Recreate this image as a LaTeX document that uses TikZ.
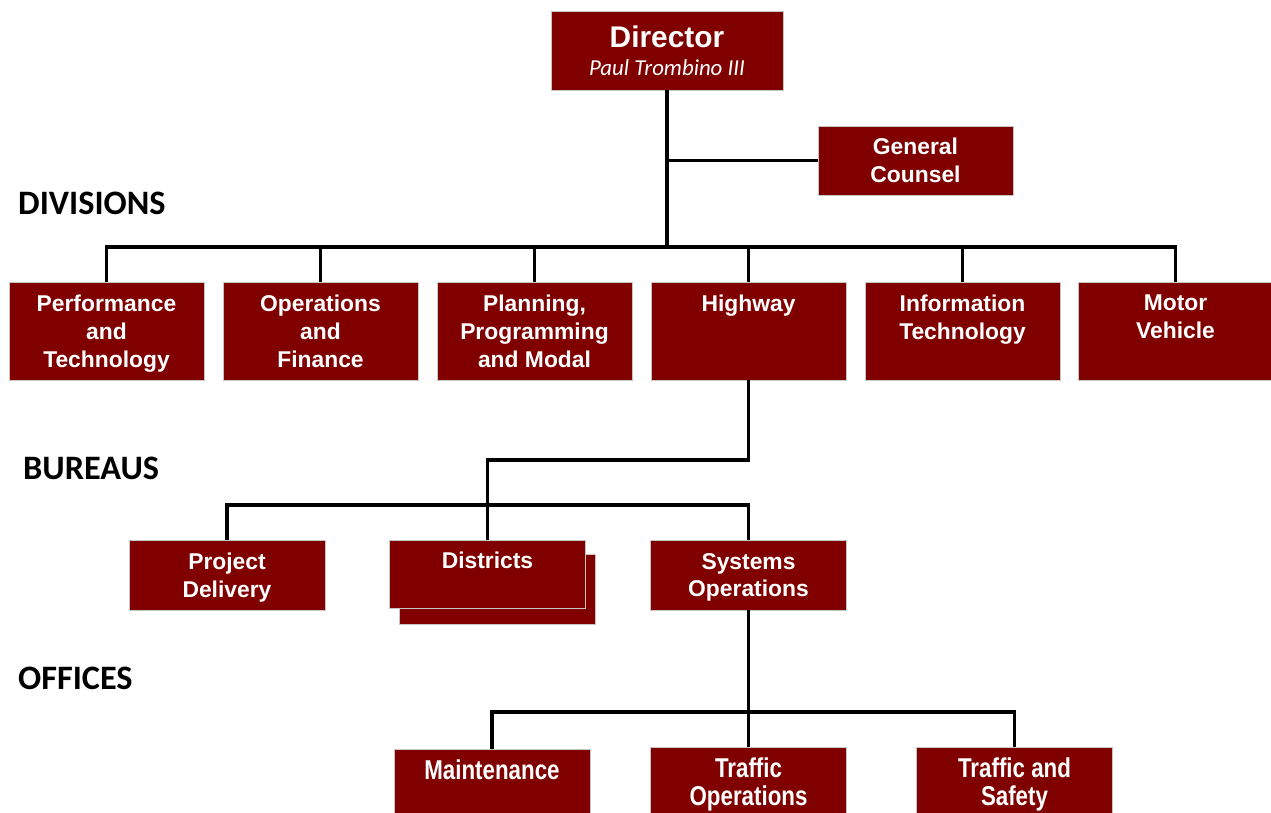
\documentclass[tikz,border=0pt]{standalone}
\usepackage{fontspec}
\setmainfont{Liberation Sans}
\newfontfamily\calibri{Carlito}
\newfontfamily\narrowfont[FakeStretch=0.82]{Liberation Sans}
\usetikzlibrary{positioning}
\definecolor{boxred}{HTML}{800000}
\tikzset{
  unit/.style={rectangle, draw=gray!45, line width=0.5pt, fill=boxred, text=white, align=center,
               font=\fontsize{13}{15.9}\selectfont\bfseries, inner sep=0pt, text depth=0pt},
  division/.style={unit, minimum width=3.9cm, minimum height=1.96cm},
  bureau/.style={unit, minimum width=3.92cm, minimum height=1.4cm},
  office/.style={bureau, font=\fontsize{15.5}{15.9}\narrowfont\bfseries},
  level/.style={anchor=west, font=\fontsize{19.5}{24}\calibri\bfseries},
  link/.style={line width=2pt, black},
}

\begin{document}
\begin{tikzpicture}[x=0.02cm, y=-0.02cm]
\useasboundingbox (0,0) rectangle (1271,812);

% Level labels
\node[level] (lvldiv) at (12,203) {DIVISIONS};
\node[level] (lvlbur) at (17,468) {BUREAUS};
\node[level] (lvloff) at (12,678) {OFFICES};

% Top
\node[unit, minimum width=4.64cm, minimum height=1.58cm] (dir) at (667,50.5)
  {\fontsize{17}{21}\selectfont Director\\[0pt]{\fontsize{13}{16}\calibri\mdseries\itshape Paul Trombino III}};
\node[unit, minimum width=3.9cm, minimum height=1.38cm] (gc) at (915.5,160.5) {General\\Counsel};

% Divisions
\node[division] (perf) at (106.5,331) {Performance\\and\\Technology};
\node[division] (ops) at (320.5,331) {Operations\\and\\Finance};
\node[division] (plan) at (534.5,331) {Planning,\\Programming\\and Modal};
\node[division] (hwy) at (748.5,331) {Highway\\~\\~};
\node[division] (it) at (962.5,331) {Information\\Technology\\~};
\node[division] (mv) at (1175.5,331) {Motor\\Vehicle\\~};

% Bureaus
\node[bureau] (pd) at (227,575) {Project\\Delivery};
\node[bureau] (distback) at (497,589) {};
\node[bureau, minimum height=1.36cm] (dist) at (487.5,574) {Districts\\~};
\node[bureau] (sysops) at (748.5,575) {Systems\\Operations};

% Offices
\node[office] (maint) at (492,784) {Maintenance\\~};
\node[office] (trops) at (748.5,782) {Traffic\\Operations};
\node[office] (trsafe) at (1014.5,782) {Traffic and\\Safety};

% Connectors
\coordinate (divbus) at (667,247);
\draw[link] (dir.south) -- (divbus);
\draw[link] (gc.west) -- (gc.west -| dir.south);
\foreach \n in {perf,ops,plan,hwy,it,mv}
  \draw[link] (divbus) -| (\n.north);

\coordinate (burjog) at (487.5,460);
\coordinate (burbus) at (487.5,505);
\draw[link] (hwy.south) |- (burjog) -- (burbus);
\foreach \n in {pd,dist,sysops}
  \draw[link] (burbus) -| (\n.north);

\coordinate (offbus) at (748.5,712);
\draw[link] (sysops.south) -- (offbus);
\foreach \n in {maint,trops,trsafe}
  \draw[link] (offbus) -| (\n.north);
\end{tikzpicture}
\end{document}
